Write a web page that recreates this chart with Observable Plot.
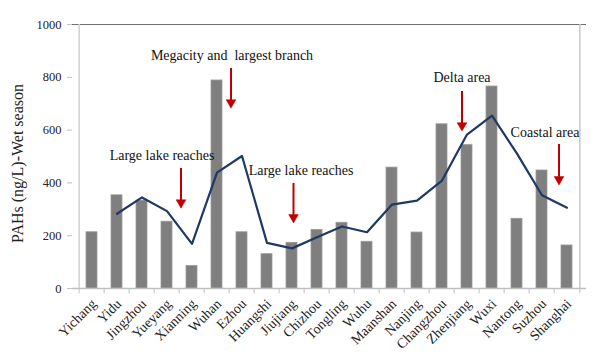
<!DOCTYPE html>
<html>
<head>
<meta charset="utf-8">
<script src="https://cdn.jsdelivr.net/npm/d3@7"></script>
<script src="https://cdn.jsdelivr.net/npm/@observablehq/plot@0.6"></script>
<style>
  html, body { margin: 0; padding: 0; background: #fff; }
  #chart { width: 600px; height: 359px; }
</style>
</head>
<body>
<div id="chart"></div>
<script>
// Data
const cities = ["Yichang","Yidu","Jingzhou","Yueyang","Xianning","Wuhan","Ezhou","Huangshi","Jiujiang","Chizhou","Tongling","Wuhu","Maanshan","Nanjing","Changzhou","Zhenjiang","Wuxi","Nantong","Suzhou","Shanghai"];
const barValues = [213, 353, 333, 253, 85, 788, 213, 130, 173, 222, 249, 177, 458, 212, 622, 543, 765, 264, 447, 163];
const lineCities = cities.slice(1);
const lineValues = [283, 345, 293, 169, 439, 502, 173, 152, 194, 235, 213, 318, 333, 409, 583, 655, 511, 353, 306];
const yTicks = [0, 200, 400, 600, 800, 1000];

// Annotations
const noteLabels = ["Large lake reaches", "Megacity and  largest branch", "Large lake reaches", "Delta area", "Coastal area"];
const noteCity = ["Yueyang", "Ezhou", "Jiujiang", "Zhenjiang", "Suzhou"];
const noteY = [504, 883, 447, 799, 591];
const arrowCity = ["Xianning", "Ezhou", "Jiujiang", "Zhenjiang", "Shanghai"];
const arrowTop = [455, 833, 398, 746, 545];
const arrowBottom = [314, 693, 258, 606, 402];

// layout offsets (pixels) for annotations
const noteDx = [-5, -10, 9, -5, 3];
const arrowDx = [-11, -11, 1.5, -5, -8];

const bars = cities.map((c, i) => ({city: c, value: barValues[i]}));
const line = lineCities.map((c, i) => ({city: c, value: lineValues[i]}));

const red = "#c00000";
const step = (600 - 72 - 14) / cities.length;

const noteMarks = noteLabels.map((t, i) => Plot.text([{city: noteCity[i], y: noteY[i], t}], {
  x: "city", y: "y", text: "t", dx: noteDx[i], fontSize: 14, fill: "#111", textAnchor: "middle"
}));
const arrowMarks = arrowCity.flatMap((c, i) => [
  Plot.ruleX([{city: c, y1: arrowTop[i], y2: arrowBottom[i]}], {x: "city", y1: "y1", y2: "y2", dx: arrowDx[i], stroke: red, strokeWidth: 2, insetBottom: 5}),
  Plot.dot([{city: c, y: arrowBottom[i]}], {x: "city", y: "y", dx: arrowDx[i], dy: -3, symbol: "triangle", r: 3.6, fill: red, stroke: red, strokeWidth: 0.5, rotate: 180})
]);

const chart = Plot.plot({
  width: 600,
  height: 359,
  marginTop: 24,
  marginLeft: 72,
  marginRight: 14,
  marginBottom: 71,
  style: {fontFamily: "'Liberation Serif', 'Times New Roman', serif", fontSize: "12px", color: "#222", background: "#fff"},
  x: {domain: cities, paddingInner: 0.57, paddingOuter: 0.285, label: null},
  y: {domain: [0, 1000], label: null},
  marks: [
    Plot.ruleY([1000], {stroke: "#707070", strokeWidth: 1.2}),
    Plot.ruleX([cities[cities.length - 1]], {y1: 0, y2: 1000, dx: step / 2, stroke: "#c8c8c8", strokeWidth: 1.5}),
    Plot.ruleX([cities[0]], {y1: 0, y2: 1000, dx: -step / 2, stroke: "#d0d0d0", strokeWidth: 1.5}),
    Plot.barY(bars, {x: "city", y: "value", fill: "#7f7f7f", stroke: "#9a9a9a", strokeWidth: 0.8}),
    Plot.ruleY([0], {stroke: "#c0c0c0", strokeWidth: 1.5}),
    Plot.ruleX(cities, {y1: 0, y2: -20, dx: -step / 2, stroke: "#c0c0c0", strokeWidth: 1}),
    Plot.ruleX([cities[cities.length - 1]], {y1: 0, y2: -20, dx: step / 2, stroke: "#c0c0c0", strokeWidth: 1}),
    Plot.lineY(line, {x: "city", y: "value", stroke: "#1f3864", strokeWidth: 2.2}),
    ...arrowMarks,
    ...noteMarks,
    Plot.axisY({ticks: yTicks, tickFormat: d => String(d), tickSize: 5, tickPadding: 6, stroke: "#c0c0c0", fill: "#222",
      label: "PAHs (ng/L)-Wet season", labelAnchor: "center", labelArrow: "none", labelOffset: 61}),
    Plot.axisX({tickSize: 0, tickRotate: -45, tickPadding: 9, fill: "#222", label: null})
  ]
});
document.getElementById("chart").appendChild(chart);
chart.querySelectorAll("g[aria-label='x-axis tick label']").forEach(g => {
  g.querySelectorAll("text").forEach(t => t.style.fontSize = "14px");
  const prev = g.getAttribute("transform") || "";
  g.setAttribute("transform", `translate(2,4) ${prev}`);
});
chart.querySelectorAll("g[aria-label='y-axis tick label'] text").forEach(t => t.style.fontSize = "12.5px");
chart.querySelectorAll("g[aria-label='y-axis label']").forEach(g => {
  g.querySelectorAll("text").forEach(t => t.style.fontSize = "16px");
  const b = g.getBBox();
  const target = 163; // vertical centre of label in the reference
  const prev = g.getAttribute("transform") || "";
  g.setAttribute("transform", `translate(0,${target - (b.y + b.height / 2)}) ${prev}`);
});
</script>
</body>
</html>
